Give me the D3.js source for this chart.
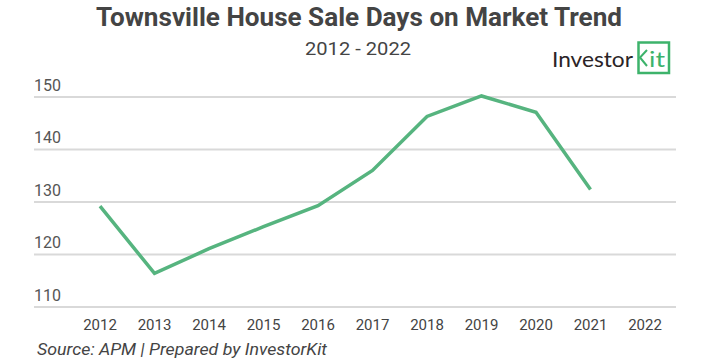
<!DOCTYPE html>
<html>
<head>
<meta charset="utf-8">
<script src="https://cdn.jsdelivr.net/npm/d3@7"></script>
<style>
  body { margin: 0; background: #fff; }
  svg { display: block; }
  text { font-family: Roboto, sans-serif; }
</style>
</head>
<body>
<svg id="chart" width="718" height="363"></svg>
<script>
// data
var years = ["2012", "2013", "2014", "2015", "2016", "2017", "2018", "2019", "2020", "2021", "2022"];
var days = [129.2, 116.4, 121.1, 125.3, 129.3, 136.0, 146.3, 150.2, 147.1, 132.4, null];
var yTicks = [110, 120, 130, 140, 150];

var svg = d3.select("#chart");

var x = d3.scalePoint()
  .domain(years)
  .range([100, 645]);

var y = d3.scaleLinear()
  .domain([110, 150])
  .range([307, 97]);

// Titles
svg.append("text")
  .attr("x", 359)
  .attr("y", 26)
  .attr("text-anchor", "middle")
  .attr("textLength", 526)
  .attr("lengthAdjust", "spacingAndGlyphs")
  .style("font-size", "25px")
  .style("font-weight", "bold")
  .style("fill", "#444")
  .text("Townsville House Sale Days on Market Trend");

svg.append("text")
  .attr("x", 358)
  .attr("y", 54.5)
  .attr("text-anchor", "middle")
  .attr("textLength", 106)
  .attr("lengthAdjust", "spacingAndGlyphs")
  .style("font-size", "17.5px")
  .style("fill", "#444")
  .text("2012 - 2022");

// Logo
var logo = svg.append("g");
logo.append("text")
  .attr("x", 552)
  .attr("y", 67)
  .attr("textLength", 81)
  .attr("lengthAdjust", "spacingAndGlyphs")
  .style("font-family", "Lato, sans-serif")
  .style("font-size", "21px")
  .style("fill", "#2a2426")
  .text("Investor");
logo.append("rect")
  .attr("x", 638.5)
  .attr("y", 42.5)
  .attr("width", 30.5)
  .attr("height", 30.5)
  .style("fill", "none")
  .style("stroke", "#3db36b")
  .style("stroke-width", 2.5);
logo.append("path")
  .attr("d", "M647,50 L640,57.5 L647,66")
  .style("fill", "none")
  .style("stroke", "#3db36b")
  .style("stroke-width", 2);
logo.append("text")
  .attr("x", 649)
  .attr("y", 67)
  .attr("textLength", 16)
  .attr("lengthAdjust", "spacingAndGlyphs")
  .style("font-family", "Lato, sans-serif")
  .style("font-size", "21px")
  .style("fill", "#3db36b")
  .text("it");

// Grid + y labels
var grid = svg.append("g");
grid.selectAll("line")
  .data(yTicks)
  .join("line")
  .attr("x1", 34)
  .attr("x2", 676)
  .attr("y1", d => y(d))
  .attr("y2", d => y(d))
  .style("stroke", "#d9d9d9")
  .style("stroke-width", 2);

grid.selectAll("text")
  .data(yTicks)
  .join("text")
  .attr("x", 34)
  .attr("y", d => y(d) - 6.5)
  .style("font-size", "16px")
  .style("fill", "#555")
  .text(d => d);

// x axis labels
svg.append("g")
  .selectAll("text")
  .data(years)
  .join("text")
  .attr("x", d => x(d))
  .attr("y", 330)
  .attr("text-anchor", "middle")
  .style("font-size", "15px")
  .style("fill", "#444")
  .text(d => d);

// Line
var line = d3.line()
  .defined(d => d[1] != null)
  .x(d => x(d[0]))
  .y(d => y(d[1]));

svg.append("path")
  .datum(d3.zip(years, days))
  .attr("d", line)
  .style("fill", "none")
  .style("stroke", "#56b47f")
  .style("stroke-width", 3.5)
  .style("stroke-linejoin", "miter");

// Source
svg.append("text")
  .attr("x", 37)
  .attr("y", 355)
  .attr("textLength", 290)
  .attr("lengthAdjust", "spacingAndGlyphs")
  .style("font-size", "16px")
  .style("font-style", "italic")
  .style("fill", "#444")
  .text("Source: APM | Prepared by InvestorKit");
</script>
</body>
</html>
